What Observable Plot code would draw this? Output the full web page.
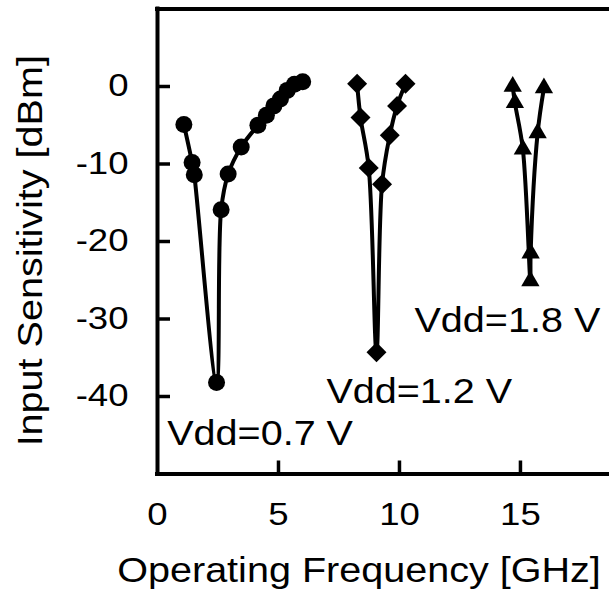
<!DOCTYPE html>
<html>
<head>
<meta charset="utf-8">
<script src="https://cdn.jsdelivr.net/npm/d3@7"></script>
<script src="https://cdn.jsdelivr.net/npm/@observablehq/plot@0.6"></script>
<style>
  html, body { margin: 0; padding: 0; background: #fff; overflow: hidden; }
  svg { display: block; }
</style>
</head>
<body>
<div id="chart"></div>
<script>
// ---- data ----
const seriesNames = ["Vdd=0.7 V", "Vdd=1.2 V", "Vdd=1.8 V"];

const freq07 = [1.09, 1.43, 1.52, 2.44, 2.63, 2.92, 3.46, 4.15, 4.5, 4.81, 5.08, 5.36, 5.66, 6.0];
const sens07 = [-4.9, -9.8, -11.4, -38.2, -15.9, -11.3, -7.8, -5.0, -3.7, -2.5, -1.6, -0.5, 0.3, 0.6];

const freq12 = [8.25, 8.39, 8.73, 9.05, 9.28, 9.6, 9.9, 10.25];
const sens12 = [0.35, -4.0, -10.5, -34.3, -12.6, -6.3, -2.5, 0.35];

const freq18 = [14.68, 14.77, 15.1, 15.41, 15.42, 15.71, 15.97];
const sens18 = [0.0, -2.1, -8.1, -25.1, -21.5, -6.0, -0.2];

const xTicks = [0, 5, 10, 15];
const yTicks = [-40, -30, -20, -10, 0];

const labelFreq = [0.4, 6.98, 10.62];
const labelSens = [-46.3, -40.9, -31.7];

const xTitle = "Operating Frequency [GHz]";
const yTitle = "Input Sensitivity [dBm]";

// ---- layout ----
const W = 609, H = 597;
const mL = 157, mR = 0, mT = 8.5, mB = 123.5;
const xDomain = [0, 18.68];
const yDomain = [-50, 10];
const tickLen = 13; // px, inward
const tickLenX = tickLen * (xDomain[1] - xDomain[0]) / (W - mL - mR);
const tickLenY = tickLen * (yDomain[1] - yDomain[0]) / (H - mT - mB);

const toRows = (f, s) => f.map((d, i) => ({f: d, s: s[i]}));
const d07 = toRows(freq07, sens07);
const d12 = toRows(freq12, sens12);
const d18 = toRows(freq18, sens18);

const lw = 4;
const bigFont = 35, tickFont = 31;
const plot = Plot.plot({
  width: W, height: H,
  marginLeft: mL, marginRight: mR, marginTop: mT, marginBottom: mB,
  style: {fontFamily: "'Liberation Sans', Arial, sans-serif", color: "black", background: "white", overflow: "visible"},
  x: {domain: xDomain},
  y: {domain: yDomain},
  marks: [
    // frame (left, bottom, top)
    Plot.ruleX([xDomain[0]], {stroke: "black", strokeWidth: lw, strokeLinecap: "square"}),
    Plot.ruleY([yDomain[0], yDomain[1]], {stroke: "black", strokeWidth: lw, strokeLinecap: "square"}),
    // inward ticks
    Plot.ruleX(xTicks.filter(d => d > xDomain[0]), {x: d => d, y1: yDomain[0], y2: yDomain[0] + tickLenY, stroke: "black", strokeWidth: 3.5}),
    Plot.ruleY(yTicks, {y: d => d, x1: xDomain[0], x2: xDomain[0] + tickLenX, stroke: "black", strokeWidth: 3.5}),
    // tick labels
    Plot.axisX(xTicks, {tickSize: 0, tickPadding: 29, fontSize: tickFont, label: null, tickFormat: d => String(d)}),
    Plot.axisY(yTicks, {tickSize: 0, tickPadding: 29, fontSize: tickFont, label: null, tickFormat: d => String(d)}),
    // axis titles
    Plot.text([xTitle], {frameAnchor: "bottom", textAnchor: "middle", dx: -24.5, dy: 107.5, lineAnchor: "bottom", fontSize: bigFont, text: d => d, fill: "black"}),
    Plot.text([yTitle], {frameAnchor: "left", textAnchor: "middle", rotate: -90, dx: -116, dy: 9.25, lineAnchor: "bottom", fontSize: bigFont, text: d => d, fill: "black"}),
    // series lines
    Plot.line(d07, {x: "f", y: "s", curve: "catmull-rom", stroke: "black", strokeWidth: lw}),
    Plot.line(d12, {x: "f", y: "s", curve: "catmull-rom", stroke: "black", strokeWidth: lw}),
    Plot.line(d18, {x: "f", y: "s", curve: "catmull-rom", stroke: "black", strokeWidth: lw}),
    // markers
    Plot.dot(d07, {x: "f", y: "s", symbol: "circle", r: 8.5, fill: "black", stroke: "none"}),
    Plot.dot(d12, {x: "f", y: "s", symbol: "diamond2", r: 9, fill: "black", stroke: "none"}),
    Plot.dot(d18, {x: "f", y: "s", symbol: "triangle", r: 6.8, fill: "black", stroke: "none"}),
    // series labels
    Plot.text(seriesNames, {x: labelFreq, y: labelSens, text: seriesNames, textAnchor: "start", lineAnchor: "bottom", fontSize: bigFont, fill: "black"})
  ]
});

document.getElementById("chart").appendChild(plot);

// the reference text is drawn wider along its reading direction than the font's natural width
plot.querySelectorAll("text").forEach(t => {
  const fs = parseFloat(getComputedStyle(t).fontSize);
  const k = fs < 33 ? 1.18 : 1.13;
  const len = t.getComputedTextLength();
  if (len > 0) {
    t.setAttribute("textLength", (len * k).toFixed(2));
    t.setAttribute("lengthAdjust", "spacingAndGlyphs");
  }
});
</script>
</body>
</html>
